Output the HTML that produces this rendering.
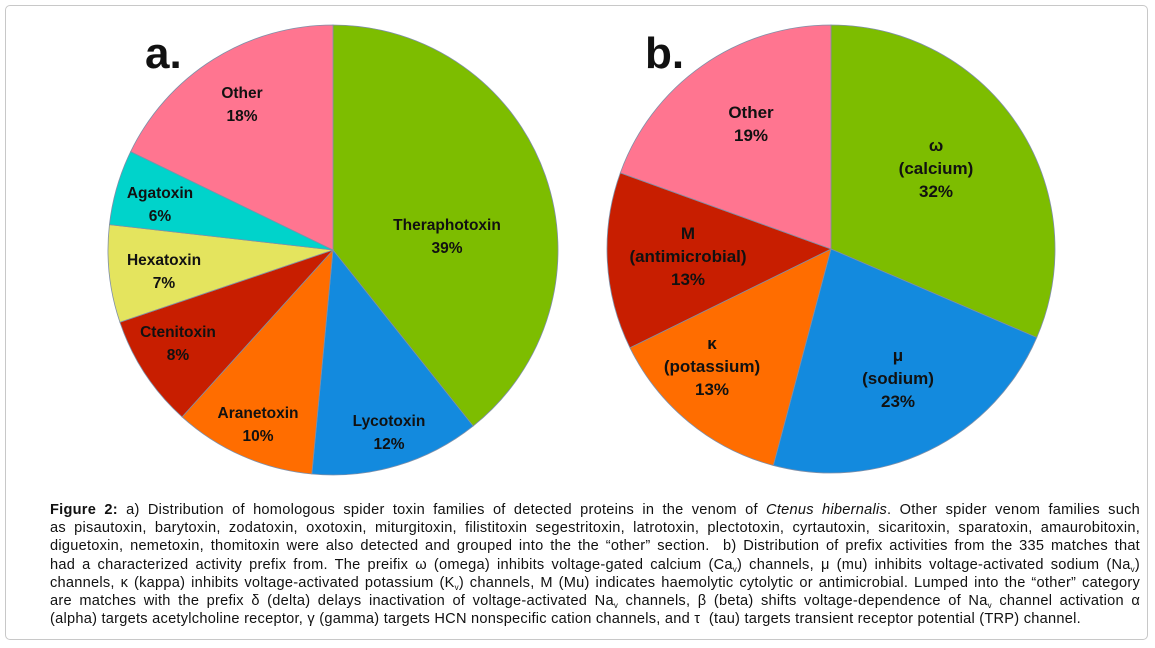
<!DOCTYPE html>
<html><head><meta charset="utf-8"><style>
html,body{margin:0;padding:0;background:#fff;width:1155px;height:648px;overflow:hidden}
#frame{position:absolute;left:5px;top:5px;width:1143px;height:635px;border:1px solid #c8c8c8;border-radius:5px;box-sizing:border-box}
svg{position:absolute;left:0;top:0}
#caption{position:absolute;left:50px;top:501px;width:1090px;font-family:"Liberation Sans",Arial,sans-serif;font-size:14.6px;letter-spacing:0.25px;line-height:18.2px;color:#111}
#caption div{text-align:justify;text-align-last:justify;white-space:nowrap;overflow:visible}
#caption div.last{text-align-last:left}
sub{font-size:8px;line-height:0;vertical-align:-3px}
.lbl{font-family:"Liberation Sans",Arial,sans-serif;font-weight:bold;fill:#111;text-anchor:middle}
</style></head><body>
<div id="frame"></div>
<svg id="chart" width="1155" height="648"></svg>
<div id="caption">
<div><b>Figure 2:</b> a) Distribution of homologous spider toxin families of detected proteins in the venom of <i>Ctenus hibernalis</i>. Other spider venom families such</div>
<div>as pisautoxin, barytoxin, zodatoxin, oxotoxin, miturgitoxin, filistitoxin segestritoxin, latrotoxin, plectotoxin, cyrtautoxin, sicaritoxin, sparatoxin, amaurobitoxin,</div>
<div>diguetoxin, nemetoxin, thomitoxin were also detected and grouped into the the “other” section.&nbsp; b) Distribution of prefix activities from the 335 matches that</div>
<div>had a characterized activity prefix from. The preifix ω (omega) inhibits voltage-gated calcium (Ca<sub>v</sub>) channels, μ (mu) inhibits voltage-activated sodium (Na<sub>v</sub>)</div>
<div>channels, κ (kappa) inhibits voltage-activated potassium (K<sub>v</sub>) channels, M (Mu) indicates haemolytic cytolytic or antimicrobial. Lumped into the “other” category</div>
<div>are matches with the prefix δ (delta) delays inactivation of voltage-activated Na<sub>v</sub> channels, β (beta) shifts voltage-dependence of Na<sub>v</sub> channel activation α</div>
<div class="last">(alpha) targets acetylcholine receptor, γ (gamma) targets HCN nonspecific cation channels, and τ&nbsp; (tau) targets transient receptor potential (TRP) channel.</div>
</div>
<script>
const catsA = ["Theraphotoxin","Lycotoxin","Aranetoxin","Ctenitoxin","Hexatoxin","Agatoxin","Other"];
const valsA = [39.3,12.2,10.2,8.1,7.0,5.4,17.8];
const pctA = ["39%","12%","10%","8%","7%","6%","18%"];
const catsB = [["ω","(calcium)"],["μ","(sodium)"],["κ","(potassium)"],["M","(antimicrobial)"],["Other"]];
const valsB = [31.5,22.7,13.6,12.8,19.5];
const pctB = ["32%","23%","13%","13%","19%"];
// styling / layout (not data)
const colA = ["#7dbd00","#138ade","#ff6d00","#c81e00","#e4e45e","#00d3cb","#ff7590"];
const colB = ["#7dbd00","#138ade","#ff6d00","#c81e00","#ff7590"];
const labA = [[447,230],[389,426],[258,418],[178,337],[164,265],[160,198],[242,98]];
const labB = [[936,151],[898,361],[712,349],[688,239],[751,118]];
const NS="http://www.w3.org/2000/svg";
const svg=document.getElementById('chart');
function pie(vals,cols,cx,cy,r,prefix){
  const tot=vals.reduce((a,b)=>a+b,0);let acc=0;
  vals.forEach((v,i)=>{
    const a0=acc/tot*2*Math.PI;acc+=v;const a1=acc/tot*2*Math.PI;
    const x0=cx+r*Math.sin(a0),y0=cy-r*Math.cos(a0),x1=cx+r*Math.sin(a1),y1=cy-r*Math.cos(a1);
    const p=document.createElementNS(NS,'path');
    p.setAttribute('d',`M${cx},${cy}L${x0},${y0}A${r},${r} 0 ${(a1-a0)>Math.PI?1:0} 1 ${x1},${y1}Z`);
    p.setAttribute('fill',cols[i]);p.setAttribute('stroke','#7f8fa8');p.setAttribute('stroke-width','0.8');
    
    
    svg.appendChild(p);
  });
}
function labels(lines,pos,size,lh,prefix){
  lines.forEach((ls,i)=>{
    const t=document.createElementNS(NS,'text');
    t.setAttribute('class','lbl');t.setAttribute('font-size',size);
    
    
    ls.forEach((s,j)=>{const sp=document.createElementNS(NS,'tspan');sp.setAttribute('x',pos[i][0]);sp.setAttribute('y',pos[i][1]+j*lh);sp.textContent=s;t.appendChild(sp);});
    svg.appendChild(t);
  });
}
pie(valsA,colA,333,250,225,'pie-a');
pie(valsB,colB,831,249,224,'pie-b');
labels(catsA.map((c,i)=>[c,pctA[i]]),labA,15.5,23,'pie-a');
labels(catsB.map((c,i)=>c.concat([pctB[i]])),labB,17,23,'pie-b');
function panel(txt,x,name){
  const t=document.createElementNS(NS,'text');
  t.setAttribute('x',x);t.setAttribute('y',68);t.setAttribute('font-family','Liberation Sans,Arial,sans-serif');
  t.setAttribute('font-weight','bold');t.setAttribute('font-size','44');t.setAttribute('fill','#111');
  
  
  t.textContent=txt;svg.appendChild(t);
}
panel('a.',145,'panel-a-label');
panel('b.',645,'panel-b-label');
</script>
</body></html>
